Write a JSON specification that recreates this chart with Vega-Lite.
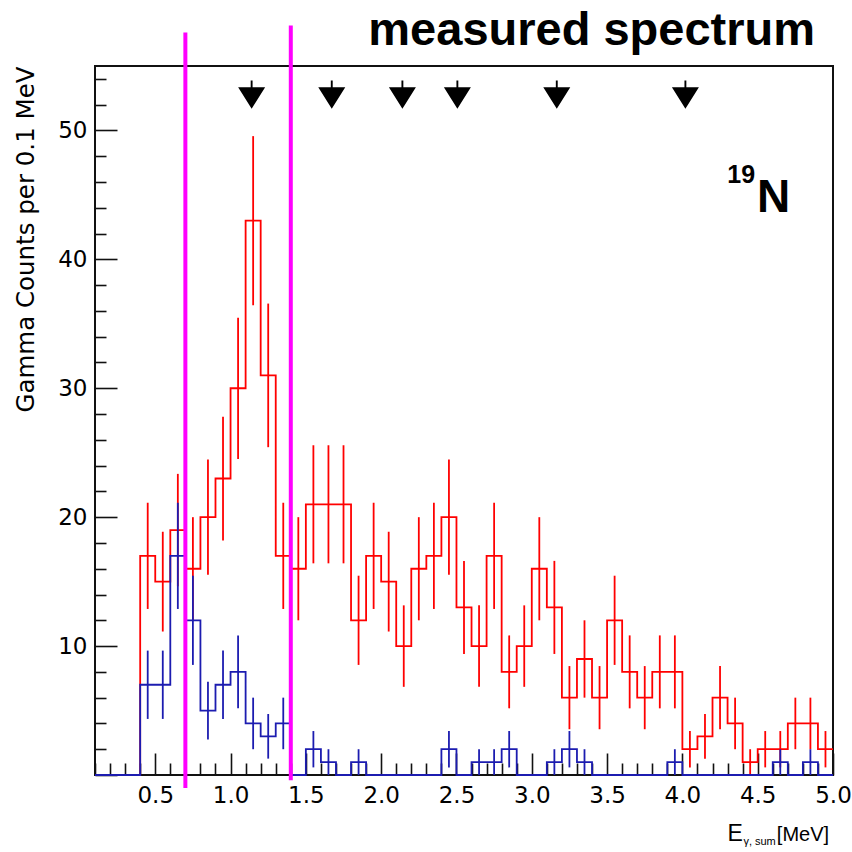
{
  "$schema": "https://vega.github.io/schema/vega-lite/v6.json",
  "width": 738,
  "height": 709,
  "autosize": {"type": "none"},
  "padding": {"left": 95, "top": 66, "right": 19, "bottom": 77},
  "background": "white",
  "config": {
    "view": {"stroke": "#111", "strokeWidth": 2},
    "axis": {"grid": false, "domain": false}
  },
  "title": {
    "text": "measured spectrum",
    "anchor": "end",
    "frame": "group",
    "dx": -18,
    "dy": 69,
    "offset": 0,
    "baseline": "alphabetic",
    "font": "Liberation Sans",
    "fontSize": 47,
    "fontWeight": "bold",
    "color": "black"
  },
  "datasets": {
    "red": [
      {"x": 0.1, "xc": 0.15, "n": 0},
      {"x": 0.2, "xc": 0.25, "n": 0},
      {"x": 0.3, "xc": 0.35, "n": 0},
      {"x": 0.4, "xc": 0.45, "n": 17, "lo": 12.88, "hi": 21.12},
      {"x": 0.5, "xc": 0.55, "n": 15, "lo": 11.13, "hi": 18.87},
      {"x": 0.6, "xc": 0.65, "n": 19, "lo": 14.64, "hi": 23.36},
      {"x": 0.7, "xc": 0.75, "n": 16, "lo": 12, "hi": 20},
      {"x": 0.8, "xc": 0.85, "n": 20, "lo": 15.53, "hi": 24.47},
      {"x": 0.9, "xc": 0.95, "n": 23, "lo": 18.2, "hi": 27.8},
      {"x": 1.0, "xc": 1.05, "n": 30, "lo": 24.52, "hi": 35.48},
      {"x": 1.1, "xc": 1.15, "n": 43, "lo": 36.44, "hi": 49.56},
      {"x": 1.2, "xc": 1.25, "n": 31, "lo": 25.43, "hi": 36.57},
      {"x": 1.3, "xc": 1.35, "n": 17, "lo": 12.88, "hi": 21.12},
      {"x": 1.4, "xc": 1.45, "n": 16, "lo": 12, "hi": 20},
      {"x": 1.5, "xc": 1.55, "n": 21, "lo": 16.42, "hi": 25.58},
      {"x": 1.6, "xc": 1.65, "n": 21, "lo": 16.42, "hi": 25.58},
      {"x": 1.7, "xc": 1.75, "n": 21, "lo": 16.42, "hi": 25.58},
      {"x": 1.8, "xc": 1.85, "n": 12, "lo": 8.54, "hi": 15.46},
      {"x": 1.9, "xc": 1.95, "n": 17, "lo": 12.88, "hi": 21.12},
      {"x": 2.0, "xc": 2.05, "n": 15, "lo": 11.13, "hi": 18.87},
      {"x": 2.1, "xc": 2.15, "n": 10, "lo": 6.84, "hi": 13.16},
      {"x": 2.2, "xc": 2.25, "n": 16, "lo": 12, "hi": 20},
      {"x": 2.3, "xc": 2.35, "n": 17, "lo": 12.88, "hi": 21.12},
      {"x": 2.4, "xc": 2.45, "n": 20, "lo": 15.53, "hi": 24.47},
      {"x": 2.5, "xc": 2.55, "n": 13, "lo": 9.39, "hi": 16.61},
      {"x": 2.6, "xc": 2.65, "n": 10, "lo": 6.84, "hi": 13.16},
      {"x": 2.7, "xc": 2.75, "n": 17, "lo": 12.88, "hi": 21.12},
      {"x": 2.8, "xc": 2.85, "n": 8, "lo": 5.17, "hi": 10.83},
      {"x": 2.9, "xc": 2.95, "n": 10, "lo": 6.84, "hi": 13.16},
      {"x": 3.0, "xc": 3.05, "n": 16, "lo": 12, "hi": 20},
      {"x": 3.1, "xc": 3.15, "n": 13, "lo": 9.39, "hi": 16.61},
      {"x": 3.2, "xc": 3.25, "n": 6, "lo": 3.55, "hi": 8.45},
      {"x": 3.3, "xc": 3.35, "n": 9, "lo": 6, "hi": 12},
      {"x": 3.4, "xc": 3.45, "n": 6, "lo": 3.55, "hi": 8.45},
      {"x": 3.5, "xc": 3.55, "n": 12, "lo": 8.54, "hi": 15.46},
      {"x": 3.6, "xc": 3.65, "n": 8, "lo": 5.17, "hi": 10.83},
      {"x": 3.7, "xc": 3.75, "n": 6, "lo": 3.55, "hi": 8.45},
      {"x": 3.8, "xc": 3.85, "n": 8, "lo": 5.17, "hi": 10.83},
      {"x": 3.9, "xc": 3.95, "n": 8, "lo": 5.17, "hi": 10.83},
      {"x": 4.0, "xc": 4.05, "n": 2, "lo": 0.59, "hi": 3.41},
      {"x": 4.1, "xc": 4.15, "n": 3, "lo": 1.27, "hi": 4.73},
      {"x": 4.2, "xc": 4.25, "n": 6, "lo": 3.55, "hi": 8.45},
      {"x": 4.3, "xc": 4.35, "n": 4, "lo": 2, "hi": 6},
      {"x": 4.4, "xc": 4.45, "n": 1, "lo": 0, "hi": 2},
      {"x": 4.5, "xc": 4.55, "n": 2, "lo": 0.59, "hi": 3.41},
      {"x": 4.6, "xc": 4.65, "n": 2, "lo": 0.59, "hi": 3.41},
      {"x": 4.7, "xc": 4.75, "n": 4, "lo": 2, "hi": 6},
      {"x": 4.8, "xc": 4.85, "n": 4, "lo": 2, "hi": 6},
      {"x": 4.9, "xc": 4.95, "n": 2, "lo": 0.59, "hi": 3.41},
      {"x": 5.0, "n": 2}
    ],
    "blue": [
      {"x": 0.1, "xc": 0.15, "n": 0},
      {"x": 0.2, "xc": 0.25, "n": 0},
      {"x": 0.3, "xc": 0.35, "n": 0},
      {"x": 0.4, "xc": 0.45, "n": 7, "lo": 4.35, "hi": 9.65},
      {"x": 0.5, "xc": 0.55, "n": 7, "lo": 4.35, "hi": 9.65},
      {"x": 0.6, "xc": 0.65, "n": 17, "lo": 12.88, "hi": 21.12},
      {"x": 0.7, "xc": 0.75, "n": 12, "lo": 8.54, "hi": 15.46},
      {"x": 0.8, "xc": 0.85, "n": 5, "lo": 2.76, "hi": 7.24},
      {"x": 0.9, "xc": 0.95, "n": 7, "lo": 4.35, "hi": 9.65},
      {"x": 1.0, "xc": 1.05, "n": 8, "lo": 5.17, "hi": 10.83},
      {"x": 1.1, "xc": 1.15, "n": 4, "lo": 2, "hi": 6},
      {"x": 1.2, "xc": 1.25, "n": 3, "lo": 1.27, "hi": 4.73},
      {"x": 1.3, "xc": 1.35, "n": 4, "lo": 2, "hi": 6},
      {"x": 1.4, "xc": 1.45, "n": 0},
      {"x": 1.5, "xc": 1.55, "n": 2, "lo": 0.59, "hi": 3.41},
      {"x": 1.6, "xc": 1.65, "n": 1, "lo": 0, "hi": 2},
      {"x": 1.7, "xc": 1.75, "n": 0},
      {"x": 1.8, "xc": 1.85, "n": 1, "lo": 0, "hi": 2},
      {"x": 1.9, "xc": 1.95, "n": 0},
      {"x": 2.0, "xc": 2.05, "n": 0},
      {"x": 2.1, "xc": 2.15, "n": 0},
      {"x": 2.2, "xc": 2.25, "n": 0},
      {"x": 2.3, "xc": 2.35, "n": 0},
      {"x": 2.4, "xc": 2.45, "n": 2, "lo": 0.59, "hi": 3.41},
      {"x": 2.5, "xc": 2.55, "n": 0},
      {"x": 2.6, "xc": 2.65, "n": 1, "lo": 0, "hi": 2},
      {"x": 2.7, "xc": 2.75, "n": 1, "lo": 0, "hi": 2},
      {"x": 2.8, "xc": 2.85, "n": 2, "lo": 0.59, "hi": 3.41},
      {"x": 2.9, "xc": 2.95, "n": 0},
      {"x": 3.0, "xc": 3.05, "n": 0},
      {"x": 3.1, "xc": 3.15, "n": 1, "lo": 0, "hi": 2},
      {"x": 3.2, "xc": 3.25, "n": 2, "lo": 0.59, "hi": 3.41},
      {"x": 3.3, "xc": 3.35, "n": 1, "lo": 0, "hi": 2},
      {"x": 3.4, "xc": 3.45, "n": 0},
      {"x": 3.5, "xc": 3.55, "n": 0},
      {"x": 3.6, "xc": 3.65, "n": 0},
      {"x": 3.7, "xc": 3.75, "n": 0},
      {"x": 3.8, "xc": 3.85, "n": 0},
      {"x": 3.9, "xc": 3.95, "n": 1, "lo": 0, "hi": 2},
      {"x": 4.0, "xc": 4.05, "n": 0},
      {"x": 4.1, "xc": 4.15, "n": 0},
      {"x": 4.2, "xc": 4.25, "n": 0},
      {"x": 4.3, "xc": 4.35, "n": 0},
      {"x": 4.4, "xc": 4.45, "n": 0},
      {"x": 4.5, "xc": 4.55, "n": 0},
      {"x": 4.6, "xc": 4.65, "n": 1, "lo": 0, "hi": 2},
      {"x": 4.7, "xc": 4.75, "n": 0},
      {"x": 4.8, "xc": 4.85, "n": 1, "lo": 0, "hi": 2},
      {"x": 4.9, "xc": 4.95, "n": 0},
      {"x": 5.0, "n": 0}
    ],
    "arrows": [
      {"e": 1.14}, {"e": 1.672}, {"e": 2.141}, {"e": 2.506}, {"e": 3.166}, {"e": 4.02}
    ]
  },
  "layer": [
    {
      "data": {"name": "red"},
      "mark": {"type": "line", "interpolate": "step-after", "color": "#ff0000", "strokeWidth": 1.8},
      "encoding": {
        "x": {
          "field": "x", "type": "quantitative",
          "scale": {"domain": [0.1, 5.0], "nice": false, "zero": false},
          "axis": {
            "title": null,
            "values": [0.1,0.2,0.3,0.4,0.5,0.6,0.7,0.8,0.9,1.0,1.1,1.2,1.3,1.4,1.5,1.6,1.7,1.8,1.9,2.0,2.1,2.2,2.3,2.4,2.5,2.6,2.7,2.8,2.9,3.0,3.1,3.2,3.3,3.4,3.5,3.6,3.7,3.8,3.9,4.0,4.1,4.2,4.3,4.4,4.5,4.6,4.7,4.8,4.9,5.0],
            "tickCount": 200,
            "labelExpr": "abs(round(datum.value*2)-datum.value*2) < 0.001 ? format(datum.value, '.1f') : ''",
            "tickSize": {"condition": {"test": "abs(round(datum.value*2)-datum.value*2) < 0.001", "value": -22}, "value": -12},
            "tickColor": "#111",
            "tickWidth": 1.6,
            "labelPadding": 31,
            "labelOverlap": false,
            "labelFlush": false,
            "labelBound": false,
            "labelFont": "DejaVu Sans",
            "labelFontSize": 23,
            "labelColor": "black"
          }
        },
        "y": {
          "field": "n", "type": "quantitative",
          "scale": {"domain": [0, 55], "nice": false, "zero": false},
          "axis": {
            "title": "Gamma Counts per 0.1 MeV",
            "titleFont": "DejaVu Sans",
            "titleFontSize": 24.5,
            "titleFontWeight": "normal",
            "titleColor": "black",
            "titleAngle": 270,
            "titleAlign": "right",
            "titleBaseline": "alphabetic",
            "titleX": -62,
            "titleY": 0,
            "values": [0,2,4,6,8,10,12,14,16,18,20,22,24,26,28,30,32,34,36,38,40,42,44,46,48,50,52,54],
            "tickCount": 200,
            "labelExpr": "datum.value % 10 == 0 && datum.value > 0 ? datum.value : ''",
            "tickSize": {"condition": {"test": "datum.value % 10 == 0", "value": -22}, "value": -11},
            "tickColor": "#111",
            "tickWidth": 1.6,
            "labelPadding": 30,
            "labelOverlap": false,
            "labelFlush": false,
            "labelBound": false,
            "labelFont": "DejaVu Sans",
            "labelFontSize": 23,
            "labelColor": "black"
          }
        }
      }
    },
    {
      "data": {"name": "red"},
      "mark": {"type": "rule", "color": "#ff0000", "strokeWidth": 1.8},
      "encoding": {
        "x": {"field": "xc", "type": "quantitative"},
        "y": {"field": "lo", "type": "quantitative"},
        "y2": {"field": "hi"}
      }
    },
    {
      "data": {"name": "blue"},
      "mark": {"type": "line", "interpolate": "step-after", "color": "#1c1cb0", "strokeWidth": 1.8},
      "encoding": {
        "x": {"field": "x", "type": "quantitative"},
        "y": {"field": "n", "type": "quantitative"}
      }
    },
    {
      "data": {"name": "blue"},
      "mark": {"type": "rule", "color": "#1c1cb0", "strokeWidth": 1.8},
      "encoding": {
        "x": {"field": "xc", "type": "quantitative"},
        "y": {"field": "lo", "type": "quantitative"},
        "y2": {"field": "hi"}
      }
    },
    {
      "data": {"values": [{"g": 0.7}]},
      "mark": {"type": "rule", "color": "#ff00ff", "strokeWidth": 4, "clip": false},
      "encoding": {
        "x": {"field": "g", "type": "quantitative"},
        "y": {"datum": -1.0, "type": "quantitative"},
        "y2": {"datum": 57.6}
      }
    },
    {
      "data": {"values": [{"g": 1.4}]},
      "mark": {"type": "rule", "color": "#ff00ff", "strokeWidth": 4, "clip": false},
      "encoding": {
        "x": {"field": "g", "type": "quantitative"},
        "y": {"datum": -0.4, "type": "quantitative"},
        "y2": {"datum": 58.15}
      }
    },
    {
      "data": {"name": "arrows"},
      "mark": {"type": "point", "shape": "M-1,-0.8L1,-0.8L0,0.8ZM-0.07,-0.8L0.07,-0.8L0.07,-1.3L-0.07,-1.3Z", "filled": true, "color": "black", "opacity": 1, "size": 729, "strokeWidth": 0},
      "encoding": {
        "x": {"field": "e", "type": "quantitative"},
        "y": {"datum": 52.52, "type": "quantitative"}
      }
    },
    {
      "data": {"values": [{"t": "19"}]},
      "mark": {"type": "text", "font": "Liberation Sans", "fontWeight": "bold", "fontSize": 25, "align": "right", "baseline": "alphabetic", "color": "black"},
      "encoding": {
        "text": {"field": "t"},
        "x": {"datum": 4.483, "type": "quantitative"},
        "y": {"datum": 45.93, "type": "quantitative"}
      }
    },
    {
      "data": {"values": [{"t": "N"}]},
      "mark": {"type": "text", "font": "Liberation Sans", "fontWeight": "bold", "fontSize": 46, "align": "left", "baseline": "alphabetic", "color": "black"},
      "encoding": {
        "text": {"field": "t"},
        "x": {"datum": 4.496, "type": "quantitative"},
        "y": {"datum": 43.7, "type": "quantitative"}
      }
    },
    {
      "data": {"values": [{"t": "E"}]},
      "mark": {"type": "text", "font": "Liberation Sans", "fontSize": 23, "align": "left", "baseline": "alphabetic", "color": "black", "clip": false},
      "encoding": {
        "text": {"field": "t"},
        "x": {"datum": 4.30, "type": "quantitative"},
        "y": {"datum": -5.12, "type": "quantitative"}
      }
    },
    {
      "data": {"values": [{"t": "γ, sum"}]},
      "mark": {"type": "text", "font": "Liberation Sans", "fontSize": 11, "align": "left", "baseline": "alphabetic", "color": "black", "clip": false},
      "encoding": {
        "text": {"field": "t"},
        "x": {"datum": 4.405, "type": "quantitative"},
        "y": {"datum": -5.45, "type": "quantitative"}
      }
    },
    {
      "data": {"values": [{"t": "[MeV]"}]},
      "mark": {"type": "text", "font": "Liberation Sans", "fontSize": 20, "align": "right", "baseline": "alphabetic", "color": "black", "clip": false},
      "encoding": {
        "text": {"field": "t"},
        "x": {"datum": 4.974, "type": "quantitative"},
        "y": {"datum": -5.12, "type": "quantitative"}
      }
    }
  ]
}
